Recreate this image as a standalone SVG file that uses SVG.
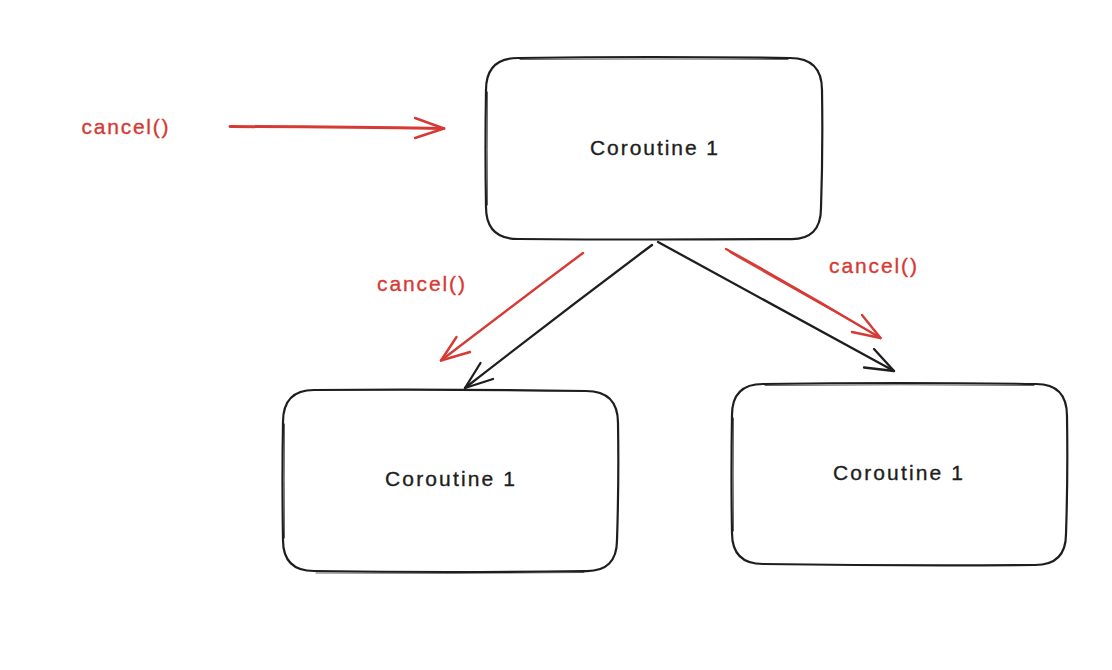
<svg xmlns="http://www.w3.org/2000/svg" width="1112" height="670" viewBox="0 0 1112 670">
  <style>
    .box { fill: #ffffff; stroke: #1e1e1e; stroke-width: 2.2; stroke-linecap: round; stroke-linejoin: round; }
    .box2 { fill: none; stroke: #1e1e1e; stroke-width: 1; stroke-linecap: round; opacity: 0.7; }
    .label { font-family: "Liberation Sans", "DejaVu Sans", sans-serif; font-size: 21px; fill: #1e1e1e; stroke: #1e1e1e; stroke-width: 0.35; text-anchor: middle; }
    .red-label { font-family: "Liberation Sans", "DejaVu Sans", sans-serif; font-size: 21px; fill: #d63a34; stroke: #d63a34; stroke-width: 0.35; text-anchor: middle; }
    .black { fill: none; stroke: #1e1e1e; stroke-width: 2.3; stroke-linecap: round; stroke-linejoin: round; }
    .red { fill: none; stroke: #d63a34; stroke-width: 2.4; stroke-linecap: round; stroke-linejoin: round; }
  </style>

  <rect x="0" y="0" width="1112" height="670" fill="#ffffff"/>

  <!-- Parent coroutine -->
  <g id="node-parent">
    <path class="box" d="M 518,58 Q 650,56 790,58 Q 822,58 822,90 Q 823,150 821,208 Q 821,240 790,239 Q 650,240 518,239 Q 486,239 486,207 Q 485,150 486,90 Q 486,58 518,58 Z"/>
    <path class="box2" d="M 520,59.5 Q 650,58.5 788,59.5 M 487.5,92 Q 487,150 487.5,205"/>
    <text class="label" x="654" y="155" textLength="128" lengthAdjust="spacing">Coroutine 1</text>
  </g>

  <!-- Left child coroutine -->
  <g id="node-child-left">
    <path class="box" d="M 314,390 Q 450,389 586,391 Q 618,391 618,423 Q 619,480 617,540 Q 617,572 585,571 Q 450,573 314,571 Q 283,571 283,540 Q 282,480 283,422 Q 283,390 314,390 Z"/>
    <path class="box2" d="M 316,573 Q 450,574 584,572.5 M 284.5,424 Q 284,480 284.5,538"/>
    <text class="label" x="450" y="486" textLength="130" lengthAdjust="spacing">Coroutine 1</text>
  </g>

  <!-- Right child coroutine -->
  <g id="node-child-right">
    <path class="box" d="M 763,384 Q 900,382 1036,384 Q 1067,384 1067,416 Q 1068,475 1066,534 Q 1066,565 1035,565 Q 900,566 763,564 Q 732,564 732,533 Q 731,475 732,415 Q 732,384 763,384 Z"/>
    <path class="box2" d="M 765,385.5 Q 900,384 1034,385.5 M 733.5,418 Q 733,475 733.5,531"/>
    <text class="label" x="898" y="480" textLength="130" lengthAdjust="spacing">Coroutine 1</text>
  </g>

  <!-- Free-standing cancel() label -->
  <g id="label-cancel-top">
    <text class="red-label" x="125" y="134" textLength="87" lengthAdjust="spacing">cancel()</text>
  </g>

  <!-- Connectors -->
  <g id="connectors">
    <!-- cancel() into parent -->
    <path class="red" style="stroke-width:3" d="M 230,126.5 Q 340,127 444,128.5"/>
    <path class="red" d="M 415,118 L 444,128.5 L 415,138"/>

    <!-- parent to left child -->
    <path class="black" d="M 652,245 Q 560,314 465,388"/>
    <path class="black" d="M 480.5,363 L 465,388 L 493,379"/>

    <!-- cancel() to left child -->
    <path class="red" d="M 583,253 Q 512,306 441,360.5"/>
    <path class="red" d="M 456.5,337 L 441,360.5 L 470,352"/>
    <text class="red-label" x="421" y="291" textLength="88" lengthAdjust="spacing">cancel()</text>

    <!-- parent to right child -->
    <path class="black" d="M 658,242 Q 776,306 894,371"/>
    <path class="black" d="M 874,349 L 894,371 L 864,367.5"/>

    <!-- cancel() to right child -->
    <path class="red" d="M 726,249 Q 804,292 880.5,338"/>
    <path class="red" style="stroke-width:1.2" d="M 730,252.5 Q 806,296 878,336"/>
    <path class="red" d="M 862,315 L 880.5,338 L 852,332"/>
    <text class="red-label" x="873" y="273" textLength="88" lengthAdjust="spacing">cancel()</text>
  </g>
</svg>
